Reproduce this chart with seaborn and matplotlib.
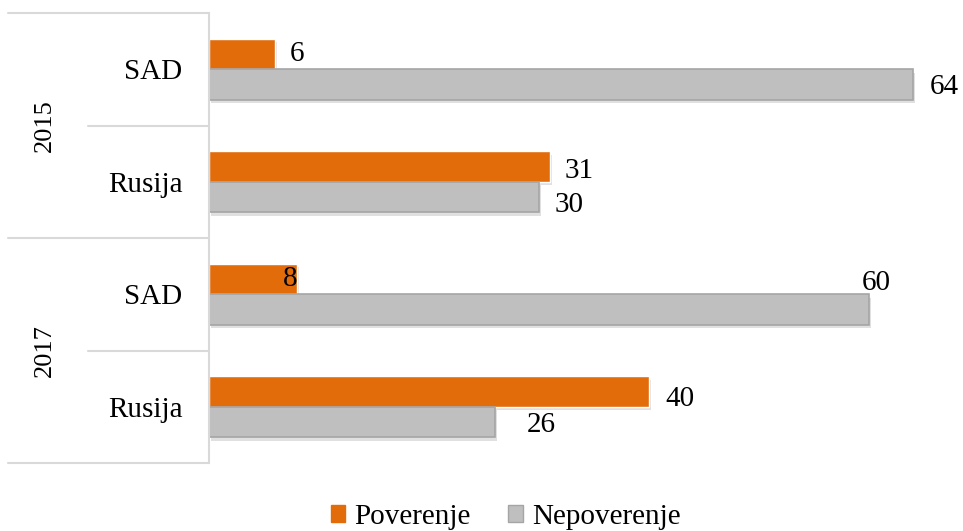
import matplotlib
matplotlib.use("Agg")
import matplotlib.pyplot as plt
import matplotlib.patheffects as pe
import matplotlib.transforms as mtransforms
from matplotlib.patches import Patch
import seaborn as sns
import pandas as pd

years = ["2015", "2015", "2017", "2017"]
countries = ["SAD", "Rusija", "SAD", "Rusija"]
poverenje = [6, 31, 8, 40]
nepoverenje = [64, 30, 60, 26]
series_names = ["Poverenje", "Nepoverenje"]

# label offsets in pixels (dx, dy, ha), per series then per category
pov_offsets = [(15, 0, "left"), (15, -4, "left"), (0, 0, "right"), (16, -7, "left")]
nep_offsets = [(17, -3, "left"), (16, -8, "left"), (7, 26, "center"), (32, -3, "left")]

sns.set_theme(style="white")
plt.rcParams["font.family"] = ["Liberation Serif", "DejaVu Serif"]
plt.rcParams["text.color"] = "black"
plt.rcParams["axes.labelcolor"] = "black"
plt.rcParams["ytick.color"] = "black"

keys = [f"{y} {c}" for y, c in zip(years, countries)]
df = pd.DataFrame({
    "key": keys * 2,
    "value": poverenje + nepoverenje,
    "series": [series_names[0]] * 4 + [series_names[1]] * 4,
})

ORANGE = "#E36C0A"
GRAY = "#BFBFBF"
LINE = "#D9D9D9"

fig = plt.figure(figsize=(9.63, 5.31), dpi=100)
W, H = 963, 531
ax = fig.add_axes([209 / W, (H - 463) / H, 754 / W, 450 / H])

sns.barplot(data=df, y="key", x="value", hue="series", order=keys,
            hue_order=series_names, palette=[ORANGE, GRAY], orient="h",
            width=0.54, gap=0, saturation=1, ax=ax, legend=False)

shadow = [pe.SimplePatchShadow(offset=(1.5, -2.5), shadow_rgbFace="#000000", alpha=0.12), pe.Normal()]
for i, cont in enumerate(ax.containers):
    for bar in cont:
        bar.set_path_effects(shadow)
        if i == 0:
            bar.set_edgecolor("white")
            bar.set_linewidth(1.0)
        else:
            bar.set_edgecolor("#A5A5A5")
            bar.set_linewidth(1.2)

ax.set_xlim(0, 754 / 11)
ax.set_ylim(3.5, -0.5)
ax.set_xlabel("")
ax.set_ylabel("")
ax.set_xticks([])
ax.set_yticks(range(len(keys)))
ax.set_yticklabels(countries, fontsize=21, color="black")
ax.tick_params(axis="y", length=0, pad=19)
for s in ["top", "right", "bottom"]:
    ax.spines[s].set_visible(False)
ax.spines["left"].set_color(LINE)
ax.spines["left"].set_linewidth(1.5)

# data labels
for cont, vals, offs in zip(ax.containers, [poverenje, nepoverenje], [pov_offsets, nep_offsets]):
    for bar, v, (dx, dy, ha) in zip(cont, vals, offs):
        yc = bar.get_y() + bar.get_height() / 2
        ax.annotate(str(v), xy=(bar.get_width(), yc), xytext=(dx, dy),
                    textcoords="offset pixels", ha=ha, va="center",
                    fontsize=21, color="black", annotation_clip=False)

# left table lines
trans = mtransforms.blended_transform_factory(ax.transAxes, ax.transData)
x_full = (8 - 209) / 754
x_mid = (88 - 209) / 754
for yv in [-0.5, 1.5, 3.5]:
    ax.plot([x_full, 0], [yv, yv], color=LINE, lw=1.5, transform=trans, clip_on=False)
for yv in [0.5, 2.5]:
    ax.plot([x_mid, 0], [yv, yv], color=LINE, lw=1.5, transform=trans, clip_on=False)

# year labels
x_year = (45 - 209) / 754
for gi, yr in enumerate(sorted(set(years))):
    ax.text(x_year, gi * 2 + 0.5, yr, rotation=90, ha="center", va="center",
            fontsize=19, color="black", transform=trans)

handles = [Patch(facecolor=ORANGE, edgecolor=ORANGE, label=series_names[0]),
           Patch(facecolor=GRAY, edgecolor="#A5A5A5", label=series_names[1])]
fig.legend(handles=handles, loc="center", bbox_to_anchor=(0.525, 0.027), ncol=2,
           frameon=False, fontsize=21, handlelength=0.5, handleheight=0.5,
           handletextpad=0.3, columnspacing=1.3)

fig.savefig("out.png", dpi=100)
